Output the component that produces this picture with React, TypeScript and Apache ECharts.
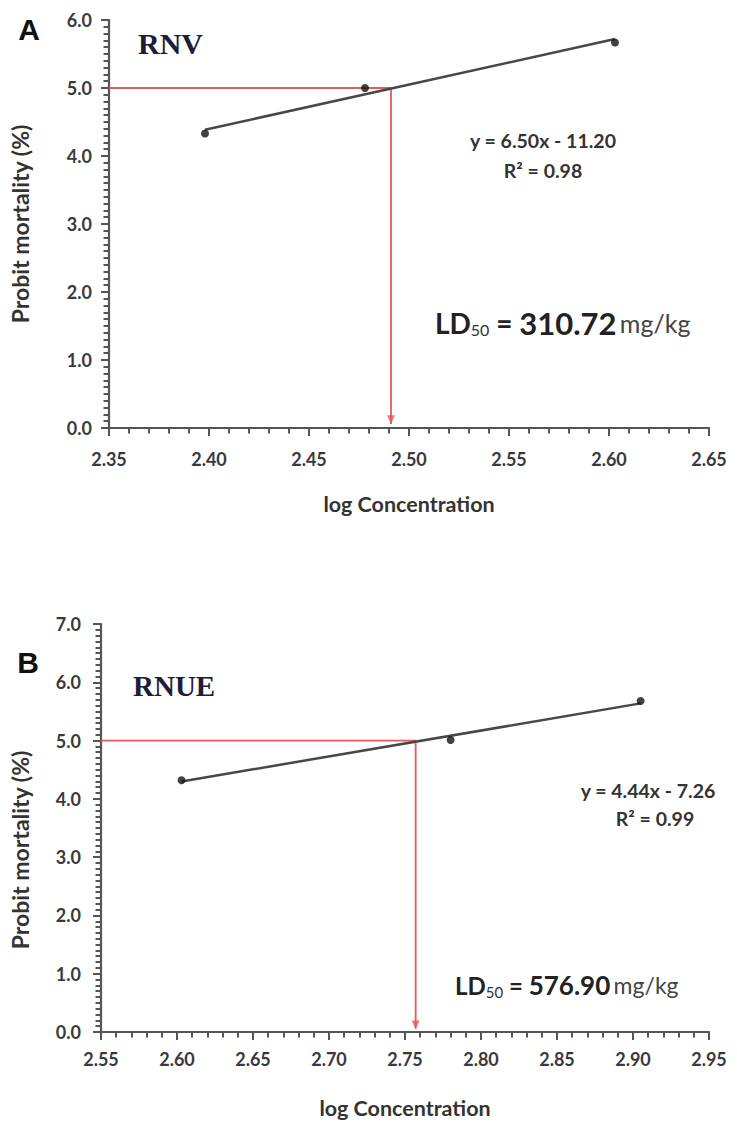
import React, { useEffect, useRef } from "react";
import * as echarts from "echarts";

// Panel A (RNV)
const logConcA = [2.398, 2.478, 2.603];
const probitA = [4.33, 5.0, 5.67];
const fitA = [6.5, -11.2]; // slope, intercept
const ld50LogA = 2.491;
const xRangeA = [2.35, 2.65];
const yRangeA = [0, 6];

// Panel B (RNUE)
const logConcB = [2.603, 2.78, 2.905];
const probitB = [4.32, 5.01, 5.68];
const fitB = [4.44, -7.26];
const ld50LogB = 2.757;
const xRangeB = [2.55, 2.95];
const yRangeB = [0, 7];

const probitLD50 = 5.0;
const xMajorStep = 0.05;
const yMajorStep = 1;

const AXIS = "#555555";
const LABEL = "#3a3a3a";
const RED = "#e25c5c";
const FONT = "Lato, 'Open Sans', sans-serif";

function fitLine(xs: number[], fit: number[]) {
  const x0 = Math.min(...xs);
  const x1 = Math.max(...xs);
  return [
    [x0, fit[0] * x0 + fit[1]],
    [x1, fit[0] * x1 + fit[1]],
  ];
}

function xAxisFor(idx: number, range: number[], labelMargin: number) {
  return {
    type: "value",
    gridIndex: idx,
    min: range[0],
    max: range[1],
    interval: xMajorStep,
    name: "log Concentration",
    nameLocation: "middle",
    nameGap: 65,
    nameTextStyle: { fontFamily: FONT, fontWeight: "bold", fontSize: 21.5, color: "#333" },
    axisLine: { show: true, onZero: false, lineStyle: { color: AXIS, width: 2.2 } },
    axisTick: { show: true, length: 8, lineStyle: { color: AXIS, width: 2 } },
    minorTick: { show: true, splitNumber: 5, length: 5.5, lineStyle: { color: AXIS, width: 2 } },
    splitLine: { show: false },
    axisLabel: {
      margin: labelMargin,
      fontFamily: FONT,
      fontWeight: "bold",
      fontSize: 18,
      color: LABEL,
      formatter: (v: number) => v.toFixed(2),
    },
  };
}

function yAxisFor(idx: number, range: number[], nameGap: number, labelMargin: number, namePad: number[]) {
  return {
    type: "value",
    gridIndex: idx,
    min: range[0],
    max: range[1],
    interval: yMajorStep,
    name: "Probit mortality (%)",
    nameLocation: "middle",
    nameGap,
    nameTextStyle: { fontFamily: FONT, fontWeight: "bold", fontSize: 23, color: "#333", padding: namePad },
    axisLine: { show: true, onZero: false, lineStyle: { color: AXIS, width: 2.2 } },
    axisTick: { show: true, length: 8, lineStyle: { color: AXIS, width: 2 } },
    minorTick: { show: true, splitNumber: 10, length: 5.5, lineStyle: { color: AXIS, width: 2 } },
    splitLine: { show: false },
    axisLabel: {
      margin: labelMargin,
      fontFamily: FONT,
      fontWeight: "bold",
      fontSize: 18,
      color: LABEL,
      formatter: (v: number) => v.toFixed(1),
    },
  };
}

function panelSeries(idx: number, xs: number[], ys: number[], fit: number[], ld: number, xMin: number) {
  const pts = xs.map((x, i) => [x, ys[i]]);
  return [
    {
      type: "line",
      xAxisIndex: idx,
      yAxisIndex: idx,
      data: [
        [xMin, probitLD50],
        [ld, probitLD50],
        [ld, 0.06],
      ],
      showSymbol: false,
      symbol: "none",
      silent: true,
      lineStyle: { color: RED, width: 1.8 },
      z: 2,
    },
    {
      type: "scatter",
      xAxisIndex: idx,
      yAxisIndex: idx,
      data: [[ld, 0.12]],
      symbol: "triangle",
      symbolRotate: 180,
      symbolSize: [8, 9],
      itemStyle: { color: RED },
      silent: true,
      z: 3,
    },
    {
      type: "line",
      xAxisIndex: idx,
      yAxisIndex: idx,
      data: fitLine(xs, fit),
      showSymbol: false,
      symbol: "none",
      silent: true,
      lineStyle: { color: "#474747", width: 2.5 },
      z: 4,
    },
    {
      type: "scatter",
      xAxisIndex: idx,
      yAxisIndex: idx,
      data: pts,
      symbol: "circle",
      symbolSize: 8,
      itemStyle: { color: "#111" },
      silent: true,
      z: 5,
    },
  ];
}

function ldText(left: number, top: number, value: string, sizes: number[]) {
  return {
    type: "text",
    left,
    top,
    silent: true,
    style: {
      text: `{a|LD}{s|50}{a| = }{b|${value}} {c|mg/kg}`,
      rich: {
        a: { fontFamily: FONT, fontWeight: "bold", fontSize: sizes[0], fill: "#222" },
        s: { fontFamily: FONT, fontWeight: "normal", fontSize: sizes[1], fill: "#333", padding: [14, 0, 0, 0] },
        b: { fontFamily: FONT, fontWeight: "bold", fontSize: sizes[2], fill: "#222" },
        c: { fontFamily: FONT, fontWeight: "normal", fontSize: sizes[3], fill: "#444" },
      },
    },
  };
}

function centerText(x: number, y: number, text: string, size: number) {
  return {
    type: "text",
    x,
    y,
    silent: true,
    style: { text, fontFamily: FONT, fontWeight: "bold", fontSize: size, fill: "#333", align: "center", verticalAlign: "middle" },
  };
}

export default function App() {
  const ref = useRef<HTMLDivElement>(null);
  useEffect(() => {
    document.body.style.margin = "0";
    if (!ref.current) return;
    const chart = echarts.init(ref.current, null, { renderer: "svg" });
    chart.setOption({
      animation: false,
      backgroundColor: "#ffffff",
      grid: [
        { left: 109, top: 20, width: 600, height: 408 },
        { left: 101, top: 624, width: 608, height: 408 },
      ],
      xAxis: [xAxisFor(0, xRangeA, 22), xAxisFor(1, xRangeB, 18)],
      yAxis: [
        yAxisFor(0, yRangeA, 78, 17, [0, 0, 0, 0]),
        yAxisFor(1, yRangeB, 70, 20, [0, 44, 0, 0]),
      ],
      series: [
        ...panelSeries(0, logConcA, probitA, fitA, ld50LogA, xRangeA[0]),
        ...panelSeries(1, logConcB, probitB, fitB, ld50LogB, xRangeB[0]),
      ],
      graphic: [
        {
          type: "text",
          x: 29,
          y: 29,
          silent: true,
          style: { text: "A", fontFamily: "'Liberation Sans', Arial, sans-serif", fontWeight: "bold", fontSize: 30, fill: "#111", align: "center", verticalAlign: "middle" },
        },
        {
          type: "text",
          x: 28,
          y: 662,
          silent: true,
          style: { text: "B", fontFamily: "'Liberation Sans', Arial, sans-serif", fontWeight: "bold", fontSize: 30, fill: "#111", align: "center", verticalAlign: "middle" },
        },
        {
          type: "text",
          x: 138,
          y: 43,
          silent: true,
          style: { text: "RNV", fontFamily: "'Liberation Serif', 'DejaVu Serif', serif", fontWeight: "bold", fontSize: 30, fill: "#1d1d38", align: "left", verticalAlign: "middle" },
        },
        {
          type: "text",
          x: 133,
          y: 686,
          silent: true,
          style: { text: "RNUE", fontFamily: "'Liberation Serif', 'DejaVu Serif', serif", fontWeight: "bold", fontSize: 29, fill: "#1d1d38", align: "left", verticalAlign: "middle" },
        },
        centerText(543, 140, "y = 6.50x - 11.20", 19.5),
        centerText(543, 170, "R² = 0.98", 19.5),
        centerText(648, 790, "y = 4.44x - 7.26", 19.5),
        centerText(655, 818, "R² = 0.99", 19.5),
        ldText(435, 307, "310.72", [28, 16, 31, 25]),
        ldText(455, 972, "576.90", [24, 15, 26, 23]),
      ],
    });
    return () => chart.dispose();
  }, []);
  return <div ref={ref} style={{ width: 737, height: 1124 }} />;
}
